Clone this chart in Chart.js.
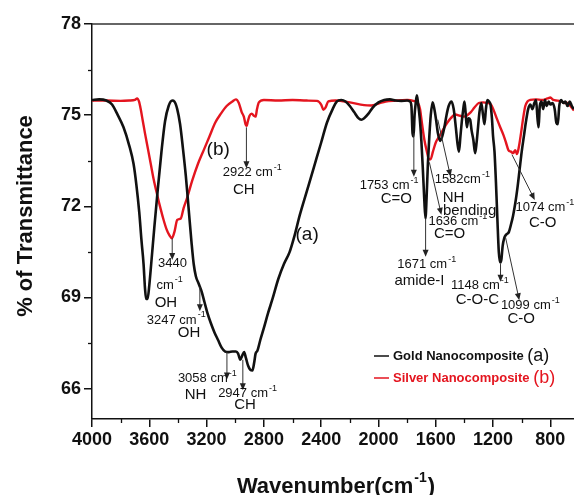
<!DOCTYPE html>
<html>
<head>
<meta charset="utf-8">
<script src="https://cdn.jsdelivr.net/npm/chart.js@4.4.1/dist/chart.umd.min.js"></script>
<style>
  body { margin: 0; background: #fff; }
  #wrap { width: 574px; height: 495px; }
</style>
</head>
<body>
<div id="wrap"><canvas id="ftirChart" width="574" height="495"></canvas></div>
<script>
// Espectro (a) - ouro
const goldWavenumber = [4000, 3950, 3900, 3860, 3820, 3780, 3740, 3710, 3690, 3670, 3655, 3640, 3630, 3622, 3612, 3600, 3585, 3565, 3540, 3515, 3490, 3465, 3440, 3425, 3405, 3385, 3365, 3345, 3325, 3305, 3290, 3275, 3255, 3235, 3215, 3195, 3170, 3145, 3120, 3095, 3070, 3045, 3020, 2995, 2980, 2965, 2950, 2938, 2925, 2910, 2895, 2880, 2868, 2858, 2845, 2825, 2800, 2770, 2740, 2700, 2660, 2620, 2585, 2550, 2500, 2450, 2400, 2360, 2320, 2290, 2260, 2230, 2200, 2170, 2140, 2120, 2100, 2070, 2040, 2000, 1960, 1920, 1880, 1840, 1800, 1780, 1770, 1762, 1755, 1748, 1740, 1732, 1724, 1712, 1700, 1690, 1680, 1672, 1664, 1655, 1645, 1635, 1622, 1610, 1598, 1585, 1570, 1555, 1540, 1525, 1510, 1490, 1475, 1460, 1448, 1438, 1428, 1418, 1408, 1400, 1392, 1383, 1372, 1360, 1350, 1338, 1325, 1315, 1305, 1295, 1282, 1270, 1260, 1250, 1240, 1228, 1218, 1208, 1200, 1190, 1180, 1170, 1160, 1150, 1142, 1133, 1122, 1112, 1100, 1090, 1075, 1060, 1045, 1030, 1015, 1000, 985, 970, 955, 940, 925, 912, 900, 890, 882, 874, 862, 850, 838, 825, 812, 800, 785, 770, 758, 748, 738, 725, 710, 695, 680, 665, 650, 635];
const goldTransmittance = [75.5, 75.52, 75.48, 75.35, 75.0, 74.6, 74.0, 73.4, 72.7, 71.8, 70.9, 70.1, 69.3, 68.95, 68.95, 69.4, 70.2, 71.3, 72.6, 73.8, 74.8, 75.3, 75.48, 75.45, 75.2, 74.7, 73.9, 73.0, 71.9, 70.8, 70.1, 69.7, 69.45, 69.2, 68.85, 68.5, 68.15, 67.85, 67.6, 67.35, 67.22, 67.2, 67.22, 67.22, 67.15, 66.95, 67.1, 67.2, 67.0, 66.75, 66.62, 66.6, 66.85, 67.15, 67.25, 67.6, 68.0, 68.5, 68.95, 69.6, 70.1, 70.5, 71.05, 71.7, 72.5, 73.3, 74.1, 74.75, 75.2, 75.45, 75.5, 75.45, 75.3, 75.1, 74.9, 74.85, 74.9, 75.05, 75.25, 75.42, 75.5, 75.52, 75.48, 75.47, 75.48, 75.45, 75.3, 74.4, 74.3, 75.0, 75.4, 75.65, 75.4, 74.9, 74.1, 73.2, 72.2, 71.6, 72.3, 73.4, 74.3, 75.0, 75.42, 75.2, 74.85, 74.4, 74.15, 74.3, 74.6, 75.0, 75.3, 75.45, 75.2, 74.6, 74.05, 73.8, 74.3, 74.8, 75.2, 75.45, 75.1, 74.6, 74.9, 74.85, 74.5, 74.2, 73.75, 74.1, 74.6, 75.1, 75.4, 75.0, 74.7, 75.2, 75.5, 75.45, 75.35, 74.9, 74.3, 73.8, 72.8, 71.6, 70.5, 70.15, 70.25, 70.7, 70.95, 71.05, 71.1, 71.15, 71.4, 71.7, 72.1, 72.6, 73.2, 73.8, 74.3, 74.8, 75.2, 75.35, 75.2, 75.4, 75.5, 74.9, 74.6, 75.3, 75.45, 75.2, 75.5, 75.3, 75.45, 75.35, 75.4, 75.2, 74.75, 74.7, 75.3, 75.5, 75.4, 75.45, 75.3, 75.45, 75.3, 75.2];

// Espectro (b) - prata
const silverWavenumber = [4000, 3900, 3800, 3740, 3700, 3685, 3672, 3660, 3645, 3630, 3610, 3590, 3570, 3546, 3520, 3500, 3480, 3460, 3442, 3425, 3405, 3380, 3360, 3336, 3300, 3260, 3220, 3180, 3140, 3100, 3060, 3020, 2995, 2975, 2955, 2940, 2928, 2920, 2912, 2900, 2885, 2870, 2858, 2848, 2835, 2800, 2700, 2600, 2500, 2430, 2400, 2385, 2370, 2350, 2300, 2200, 2100, 2050, 2000, 1950, 1880, 1800, 1750, 1725, 1710, 1697, 1680, 1662, 1648, 1636, 1620, 1600, 1569, 1540, 1520, 1495, 1465, 1430, 1405, 1380, 1355, 1330, 1300, 1270, 1240, 1215, 1195, 1175, 1150, 1128, 1110, 1093, 1075, 1060, 1045, 1033, 1020, 1005, 990, 975, 960, 940, 900, 860, 820, 800, 780, 750, 720, 700, 680, 660, 635];
const silverTransmittance = [75.48, 75.48, 75.47, 75.48, 75.5, 75.55, 75.45, 75.2, 74.8, 74.4, 73.9, 73.4, 72.9, 72.4, 71.9, 71.55, 71.25, 71.05, 70.95, 71.15, 71.55, 71.6, 71.95, 72.28, 72.85, 73.4, 73.85, 74.3, 74.75, 75.05, 75.3, 75.45, 75.52, 75.4, 75.1, 74.95, 74.7, 74.65, 74.8, 74.98, 75.05, 74.98, 74.95, 75.2, 75.42, 75.5, 75.48, 75.5, 75.48, 75.47, 75.35, 75.18, 75.25, 75.45, 75.48, 75.42, 75.33, 75.32, 75.38, 75.45, 75.48, 75.5, 75.46, 75.4, 75.2, 74.75, 74.2, 73.8, 73.55, 73.55, 73.8, 74.1, 74.35, 74.6, 74.75, 74.9, 75.02, 74.98, 74.95, 75.0, 75.1, 75.25, 75.4, 75.42, 75.4, 75.35, 75.15, 74.9, 74.6, 74.35, 74.1, 73.85, 73.8, 73.75, 73.85, 73.72, 73.95, 74.4, 74.9, 75.3, 75.45, 75.5, 75.52, 75.5, 75.55, 75.58, 75.5, 75.48, 75.45, 75.4, 75.4, 75.3, 75.15];

const xTicks = [4000, 3600, 3200, 2800, 2400, 2000, 1600, 1200, 800];
const xMinorTicks = [3800, 3400, 3000, 2600, 2200, 1800, 1400, 1000];
const yTicks = [66, 69, 72, 75, 78];
const yMinorTicks = [67.5, 70.5, 73.5, 76.5];
const seriesNames = ['Gold Nanocomposite', 'Silver Nanocomposite'];
const seriesTags = ['(a)', '(b)'];

// setas dos picos: [de nº onda, de %T, até nº onda, até %T]
const peakArrows = [
    [2922, 74.6, 2922, 73.25],
    [3440, 70.95, 3440, 70.23],
    [3247, 69.35, 3247, 68.55],
    [3058, 67.2, 3058, 66.3],
    [2947, 66.95, 2947, 65.95],
    [1753, 74.4, 1753, 72.97],
    [1671, 71.6, 1671, 70.34],
    [1148, 70.1, 1148, 69.52],
    [1586, 74.85, 1497, 72.98],
    [1645, 73.45, 1561, 71.72],
    [1068, 73.7, 909, 72.21],
    [1114, 71.0, 1017, 68.91]
];

// rótulos: [nº onda, %T, texto, expoente, tipo]
const peakLabels = [
    [2881, 73.1, '2922 cm', '-1', 'num'],
    [2940, 72.54, 'CH', '', 'grp'],
    [3438, 70.12, '3440', '', 'num'],
    [3458, 69.41, 'cm', '-1', 'num'],
    [3484, 68.83, 'OH', '', 'grp'],
    [3412, 68.26, '3247 cm', '-1', 'num'],
    [3323, 67.82, 'OH', '', 'grp'],
    [3195, 66.34, '3058 cm', '-1', 'num'],
    [3277, 65.79, 'NH', '', 'grp'],
    [2914, 65.84, '2947 cm', '-1', 'num'],
    [2932, 65.46, 'CH', '', 'grp'],
    [1926, 72.7, '1753 cm', '-1', 'num'],
    [1875, 72.23, 'C=O', '', 'grp'],
    [1415, 72.87, '1582cm', '-1', 'num'],
    [1476, 72.29, 'NH', '', 'grp'],
    [1364, 71.86, 'bending', '', 'grp'],
    [1446, 71.5, '1636 cm', '-1', 'num'],
    [1504, 71.09, 'C=O', '', 'grp'],
    [1663, 70.1, '1671 cm', '-1', 'num'],
    [1714, 69.54, 'amide-I', '', 'grp'],
    [838, 71.97, '1074 cm', '-1', 'num'],
    [853, 71.47, 'C-O', '', 'grp'],
    [1292, 69.38, '1148 cm', '-1', 'num'],
    [1310, 68.91, 'C-O-C', '', 'grp'],
    [940, 68.75, '1099 cm', '-1', 'num'],
    [1004, 68.28, 'C-O', '', 'grp'],
    [3119, 73.85, '(b)', '', 'tag'],
    [2498, 71.05, '(a)', '', 'tag']
];

const FONT = '"Liberation Sans", Arial, sans-serif';
const RED = '#e4151f';

function montarPontos(xs, ys) {
    return xs.map((x, i) => ({ x: x, y: ys[i] }));
}

function textoComExpoente(ctx, cx, cy, texto, expoente, fonte, fonteExp, subida) {
    ctx.font = fonte;
    const w1 = ctx.measureText(texto).width;
    let w2 = 0;
    if (expoente) {
        ctx.font = fonteExp;
        w2 = ctx.measureText(expoente).width + 1;
    }
    const x = cx - (w1 + w2) / 2;
    ctx.textAlign = 'left';
    ctx.font = fonte;
    ctx.fillText(texto, x, cy);
    if (expoente) {
        ctx.font = fonteExp;
        ctx.fillText(expoente, x + w1 + 1, cy - subida);
    }
}

function seta(ctx, x1, y1, x2, y2) {
    const ang = Math.atan2(y2 - y1, x2 - x1);
    const L = 7, W = 3;
    ctx.beginPath();
    ctx.moveTo(x1, y1);
    ctx.lineTo(x2 - Math.cos(ang) * L * 0.8, y2 - Math.sin(ang) * L * 0.8);
    ctx.stroke();
    ctx.beginPath();
    ctx.moveTo(x2, y2);
    ctx.lineTo(x2 - Math.cos(ang) * L - Math.sin(ang) * W, y2 - Math.sin(ang) * L + Math.cos(ang) * W);
    ctx.lineTo(x2 - Math.cos(ang) * L + Math.sin(ang) * W, y2 - Math.sin(ang) * L - Math.cos(ang) * W);
    ctx.closePath();
    ctx.fill();
}

const decoracoes = {
    id: 'decoracoes',
    afterDraw(chart) {
        const ctx = chart.ctx;
        const xs = chart.scales.x;
        const ys = chart.scales.y;
        const area = chart.chartArea;
        ctx.save();

        // moldura superior
        ctx.strokeStyle = '#333';
        ctx.lineWidth = 1.5;
        ctx.beginPath();
        ctx.moveTo(area.left, area.top);
        ctx.lineTo(area.right, area.top);
        ctx.stroke();

        // ticks menores
        ctx.strokeStyle = '#111';
        ctx.lineWidth = 1.3;
        xMinorTicks.forEach(v => {
            const px = Math.round(xs.getPixelForValue(v)) + 0.5;
            ctx.beginPath();
            ctx.moveTo(px, area.bottom);
            ctx.lineTo(px, area.bottom + 4);
            ctx.stroke();
        });
        yMinorTicks.forEach(v => {
            const py = Math.round(ys.getPixelForValue(v)) + 0.5;
            ctx.beginPath();
            ctx.moveTo(area.left, py);
            ctx.lineTo(area.left - 4, py);
            ctx.stroke();
        });

        // setas
        ctx.strokeStyle = '#333';
        ctx.fillStyle = '#222';
        ctx.lineWidth = 1;
        peakArrows.forEach(a => {
            seta(ctx, xs.getPixelForValue(a[0]), ys.getPixelForValue(a[1]),
                xs.getPixelForValue(a[2]), ys.getPixelForValue(a[3]));
        });

        // rótulos dos picos
        ctx.fillStyle = '#111';
        ctx.textBaseline = 'middle';
        peakLabels.forEach(l => {
            const px = xs.getPixelForValue(l[0]);
            const py = ys.getPixelForValue(l[1]);
            if (l[4] === 'num') {
                textoComExpoente(ctx, px, py, l[2], l[3], '13px ' + FONT, '9px ' + FONT, 5);
            } else if (l[4] === 'grp') {
                textoComExpoente(ctx, px, py, l[2], '', '15px ' + FONT, '', 0);
            } else {
                textoComExpoente(ctx, px, py, l[2], '', '19px ' + FONT, '', 0);
            }
        });

        // legenda
        const cores = ['#111', RED];
        [356, 378].forEach((ly, i) => {
            ctx.strokeStyle = cores[i];
            ctx.lineWidth = 1.5;
            ctx.beginPath();
            ctx.moveTo(374, ly);
            ctx.lineTo(389, ly);
            ctx.stroke();
            ctx.fillStyle = cores[i];
            ctx.textAlign = 'left';
            ctx.font = 'bold 13px ' + FONT;
            ctx.fillText(seriesNames[i], 393, ly);
            const w = ctx.measureText(seriesNames[i] + ' ').width;
            ctx.font = '18px ' + FONT;
            ctx.fillText(seriesTags[i], 393 + w, ly);
        });

        // títulos dos eixos
        ctx.fillStyle = '#111';
        ctx.save();
        ctx.translate(26, 216);
        ctx.rotate(-Math.PI / 2);
        ctx.textAlign = 'center';
        ctx.font = 'bold 22px ' + FONT;
        ctx.fillText('% of Transmittance', 0, 0);
        ctx.restore();

        ctx.textBaseline = 'alphabetic';
        ctx.font = 'bold 22px ' + FONT;
        const wMain = ctx.measureText('Wavenumber(cm').width;
        const wPar = ctx.measureText(')').width;
        ctx.font = 'bold 14px ' + FONT;
        const wSup = ctx.measureText('-1').width;
        const x0 = 336 - (wMain + wSup + wPar + 2) / 2;
        ctx.textAlign = 'left';
        ctx.font = 'bold 22px ' + FONT;
        ctx.fillText('Wavenumber(cm', x0, 493);
        ctx.font = 'bold 14px ' + FONT;
        ctx.fillText('-1', x0 + wMain + 1, 482);
        ctx.font = 'bold 22px ' + FONT;
        ctx.fillText(')', x0 + wMain + wSup + 2, 493);

        ctx.restore();
    }
};

const ctx = document.getElementById('ftirChart').getContext('2d');
new Chart(ctx, {
    type: 'line',
    data: {
        datasets: [
            {
                label: seriesNames[0] + ' ' + seriesTags[0],
                data: montarPontos(goldWavenumber, goldTransmittance),
                borderColor: '#111',
                borderWidth: 2.6,
                pointRadius: 0,
                tension: 0.3,
                cubicInterpolationMode: 'monotone'
            },
            {
                label: seriesNames[1] + ' ' + seriesTags[1],
                data: montarPontos(silverWavenumber, silverTransmittance),
                borderColor: RED,
                borderWidth: 2.4,
                pointRadius: 0,
                tension: 0.3,
                cubicInterpolationMode: 'monotone'
            }
        ]
    },
    options: {
        responsive: false,
        animation: false,
        layout: { padding: { top: 24, right: 0, left: 0, bottom: 0 } },
        plugins: {
            legend: { display: false },
            tooltip: { enabled: false }
        },
        scales: {
            x: {
                type: 'linear',
                reverse: true,
                min: 635,
                max: 4000,
                afterBuildTicks: s => { s.ticks = xTicks.map(v => ({ value: v })); },
                afterFit: s => { s.height = 76; },
                ticks: {
                    color: '#111',
                    padding: 2,
                    maxRotation: 0,
                    autoSkip: false,
                    callback: v => String(v),
                    font: { family: FONT, size: 18, weight: 'bold' }
                },
                grid: { drawOnChartArea: false, tickLength: 8, color: '#111', lineWidth: 1.5 },
                border: { color: '#111', width: 1.5 }
            },
            y: {
                min: 65,
                max: 78,
                afterBuildTicks: s => { s.ticks = yTicks.map(v => ({ value: v })); },
                afterFit: s => { s.width = 92; },
                ticks: {
                    color: '#111',
                    padding: 3,
                    callback: v => String(v),
                    font: { family: FONT, size: 18, weight: 'bold' }
                },
                grid: { drawOnChartArea: false, tickLength: 8, color: '#111', lineWidth: 1.5 },
                border: { color: '#111', width: 1.5 }
            }
        }
    },
    plugins: [decoracoes]
});
</script>
</body>
</html>
